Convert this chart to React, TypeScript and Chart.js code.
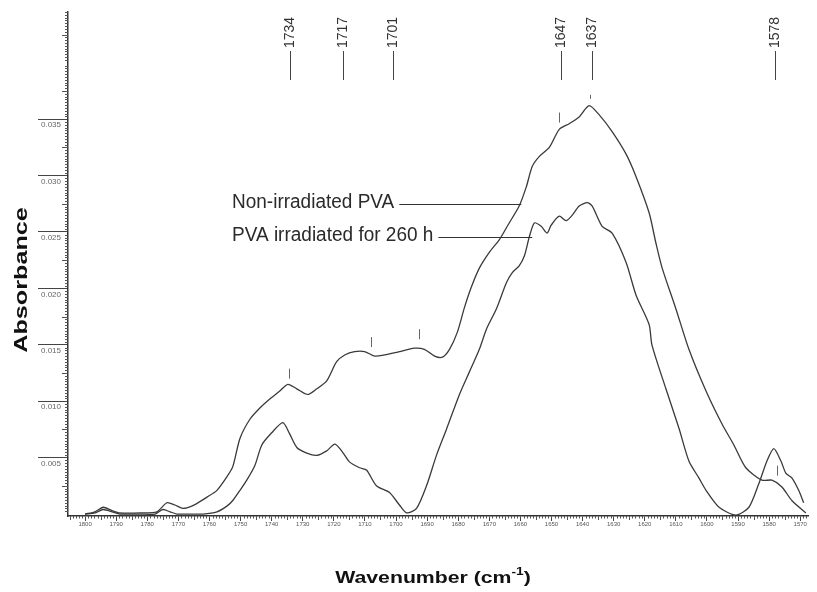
import React, { useEffect, useRef } from "react";
import { Chart, registerables } from "chart.js";

Chart.register(...registerables);

// ---- Data (wavenumber in cm-1, absorbance) ----
const wavenumberNonIrr = [1800.0,1796.8,1794.2,1791.3,1788.8,1782.3,1776.9,1773.7,1771.1,1768.5,1765.7,1763.1,1760.8,1757.6,1754.4,1752.5,1750.2,1747.0,1743.8,1740.6,1737.4,1734.8,1731.9,1728.4,1725.5,1722.3,1719.1,1716.5,1713.3,1710.1,1706.9,1703.7,1698.9,1694.1,1690.9,1687.6,1685.1,1682.8,1680.3,1678.0,1675.8,1673.2,1670.0,1666.8,1663.6,1660.4,1658.1,1656.2,1653.9,1650.7,1647.5,1644.3,1641.1,1637.9,1634.7,1630.5,1626.0,1622.8,1618.6,1616.4,1614.4,1610.0,1605.8,1600.3,1595.2,1591.3,1587.5,1582.3,1579.1,1575.9,1572.7,1568.2];
const absorbanceNonIrr = [0.0000,0.0002,0.0006,0.0003,0.0001,0.0001,0.0002,0.0010,0.0008,0.0005,0.0007,0.0011,0.0015,0.0021,0.0033,0.0042,0.0067,0.0084,0.0094,0.0102,0.0109,0.0115,0.0111,0.0106,0.0111,0.0118,0.0135,0.0141,0.0144,0.0144,0.0140,0.0141,0.0144,0.0147,0.0146,0.0140,0.0139,0.0146,0.0161,0.0183,0.0201,0.0218,0.0232,0.0243,0.0258,0.0273,0.0290,0.0308,0.0317,0.0325,0.0341,0.0346,0.0352,0.0362,0.0354,0.0339,0.0319,0.0299,0.0267,0.0240,0.0218,0.0182,0.0146,0.0109,0.0080,0.0061,0.0041,0.0030,0.0030,0.0024,0.0012,0.0001];

const wavenumberIrr = [1800.0,1796.8,1794.2,1791.3,1788.8,1782.3,1777.5,1775.0,1772.7,1770.5,1766.3,1762.1,1757.6,1754.4,1752.5,1750.2,1748.0,1745.4,1743.2,1740.0,1736.4,1734.2,1731.9,1728.7,1725.5,1722.3,1719.7,1717.5,1714.9,1711.7,1709.5,1706.3,1702.1,1698.9,1696.6,1693.4,1690.2,1687.0,1683.8,1679.6,1676.4,1673.2,1670.9,1667.7,1664.5,1662.6,1660.4,1658.7,1657.1,1655.5,1653.3,1651.4,1650.1,1647.5,1645.3,1643.3,1641.1,1638.5,1636.9,1633.7,1630.5,1626.0,1622.8,1618.6,1617.7,1613.2,1609.0,1605.8,1602.6,1600.3,1596.1,1590.7,1586.5,1583.3,1580.7,1578.5,1576.2,1574.6,1572.7,1570.5,1568.9];
const absorbanceIrr = [0.0000,0.0001,0.0004,0.0002,0.0000,0.0000,0.0000,0.0004,0.0002,0.0000,0.0000,0.0000,0.0002,0.0007,0.0012,0.0021,0.0030,0.0043,0.0061,0.0072,0.0081,0.0071,0.0059,0.0054,0.0052,0.0056,0.0062,0.0056,0.0046,0.0041,0.0039,0.0025,0.0019,0.0008,0.0001,0.0005,0.0025,0.0052,0.0075,0.0106,0.0126,0.0146,0.0164,0.0182,0.0205,0.0214,0.0220,0.0229,0.0246,0.0258,0.0255,0.0249,0.0256,0.0264,0.0260,0.0265,0.0273,0.0276,0.0273,0.0255,0.0249,0.0223,0.0194,0.0168,0.0150,0.0111,0.0076,0.0047,0.0032,0.0021,0.0006,-0.0001,0.0006,0.0027,0.0047,0.0058,0.0047,0.0036,0.0032,0.0021,0.0010];

const xTickValues = [1800,1790,1780,1770,1760,1750,1740,1730,1720,1710,1700,1690,1680,1670,1660,1650,1640,1630,1620,1610,1600,1590,1580,1570];
const yTickValues = [0.005,0.010,0.015,0.020,0.025,0.030,0.035];

const peakLabels = [1734, 1717, 1701, 1647, 1637, 1578];
const peakMarkWavenumbers = [1734.5, 1708, 1692.5, 1647.5, 1637.6, 1577.5];
const peakMarkAbsorbances = [0.0120, 0.0148, 0.0155, 0.0347, 0.0368, 0.0034];

const seriesNames = ["Non-irradiated PVA", "PVA irradiated for 260 h"];
const leaderWavenumbers = [1659.7, 1656.2];
const leaderAbsorbances = [0.0275, 0.0246];

// ---- styling constants ----
const INK = "#3a3a3a";
const FONT = "Arial, 'Liberation Sans', Helvetica, sans-serif";

const overlayPlugin = {
  id: "overlay",
  afterDraw(chart: any) {
    const ctx = chart.ctx as CanvasRenderingContext2D;
    const xs = chart.scales.x;
    const ys = chart.scales.y;
    const area = chart.chartArea;
    ctx.save();

    // minor ticks y
    ctx.strokeStyle = "#555";
    ctx.lineWidth = 1;
    ctx.beginPath();
    for (let i = 1; i * 0.00025 <= ys.max; i++) {
      if (i % 20 === 0) continue;
      const len = i % 10 === 0 ? 6 : 3;
      const py = Math.round(ys.getPixelForValue(i * 0.00025)) + 0.5;
      ctx.moveTo(area.left, py);
      ctx.lineTo(area.left - len, py);
    }
    // minor ticks x
    for (let w = Math.ceil(xs.min); w <= xs.max; w++) {
      if (w % 10 === 0) continue;
      const len = w % 5 === 0 ? 4 : 2.5;
      const px = Math.round(xs.getPixelForValue(w)) + 0.5;
      ctx.moveTo(px, area.bottom);
      ctx.lineTo(px, area.bottom + len);
    }
    ctx.stroke();

    // peak labels at top
    ctx.strokeStyle = "#444";
    ctx.fillStyle = "#333";
    peakLabels.forEach((v) => {
      const px = Math.round(xs.getPixelForValue(v)) + 0.5;
      ctx.beginPath();
      ctx.moveTo(px, 80);
      ctx.lineTo(px, 51);
      ctx.stroke();
      ctx.save();
      ctx.translate(px, 48);
      ctx.rotate(-Math.PI / 2);
      ctx.font = `14px ${FONT}`;
      ctx.textAlign = "left";
      ctx.textBaseline = "middle";
      ctx.fillText(String(v), 0, 0);
      ctx.restore();
    });

    // small peak markers
    ctx.strokeStyle = "#666";
    peakMarkWavenumbers.forEach((w, i) => {
      const px = Math.round(xs.getPixelForValue(w)) + 0.5;
      const py = ys.getPixelForValue(peakMarkAbsorbances[i]);
      const len = i === 4 ? 4 : 10;
      ctx.beginPath();
      ctx.moveTo(px, py);
      ctx.lineTo(px, py - len);
      ctx.stroke();
    });

    // series labels with leader lines
    ctx.font = `19px ${FONT}`;
    ctx.fillStyle = "#2a2a2a";
    ctx.strokeStyle = "#333";
    ctx.textBaseline = "middle";
    ctx.textAlign = "left";
    seriesNames.forEach((name, i) => {
      const ax = xs.getPixelForValue(leaderWavenumbers[i]);
      const ay = Math.round(ys.getPixelForValue(leaderAbsorbances[i])) + 0.5;
      const tx = 232;
      ctx.save();
      ctx.translate(tx, ay - 2);
      ctx.scale(1.0, 1.05);
      ctx.fillText(name, 0, 0);
      ctx.restore();
      const tw = ctx.measureText(name).width;
      ctx.beginPath();
      ctx.moveTo(tx + tw + 5, ay);
      ctx.lineTo(ax, ay);
      ctx.stroke();
    });

    // y axis title
    ctx.save();
    ctx.fillStyle = "#111";
    ctx.translate(22, 280);
    ctx.rotate(-Math.PI / 2);
    ctx.scale(1.4, 1);
    ctx.font = `bold 18px ${FONT}`;
    ctx.textAlign = "center";
    ctx.textBaseline = "middle";
    ctx.fillText("Absorbance", 0, 0);
    ctx.restore();

    // x axis title
    ctx.save();
    ctx.fillStyle = "#111";
    ctx.translate(433, 578);
    ctx.scale(1.25, 1);
    ctx.textBaseline = "middle";
    ctx.textAlign = "left";
    const main = "Wavenumber (cm";
    const sup = "-1";
    const close = ")";
    ctx.font = `bold 17px ${FONT}`;
    const w1 = ctx.measureText(main).width;
    const w3 = ctx.measureText(close).width;
    ctx.font = `bold 11px ${FONT}`;
    const w2 = ctx.measureText(sup).width;
    const total = w1 + w2 + w3;
    const x0 = -total / 2;
    ctx.font = `bold 17px ${FONT}`;
    ctx.fillText(main, x0, 0);
    ctx.font = `bold 11px ${FONT}`;
    ctx.fillText(sup, x0 + w1, -6);
    ctx.font = `bold 17px ${FONT}`;
    ctx.fillText(close, x0 + w1 + w2, 0);
    ctx.restore();

    ctx.restore();
  },
};

export default function App() {
  const canvasRef = useRef<HTMLCanvasElement | null>(null);

  useEffect(() => {
    const canvas = canvasRef.current;
    if (!canvas) return;
    const chart = new Chart(canvas, {
      type: "line",
      data: {
        datasets: [
          {
            label: seriesNames[0],
            data: wavenumberNonIrr.map((w, i) => ({ x: w, y: absorbanceNonIrr[i] })),
            borderColor: INK,
            borderWidth: 1.3,
            pointRadius: 0,
            tension: 0.25,
            fill: false,
          },
          {
            label: seriesNames[1],
            data: wavenumberIrr.map((w, i) => ({ x: w, y: absorbanceIrr[i] })),
            borderColor: INK,
            borderWidth: 1.3,
            pointRadius: 0,
            tension: 0.25,
            fill: false,
          },
        ],
      },
      options: {
        responsive: false,
        animation: false,
        devicePixelRatio: 1,
        layout: { padding: { left: 8, right: 9, top: 12, bottom: 0 } },
        plugins: { legend: { display: false }, tooltip: { enabled: false } },
        scales: {
          x: {
            type: "linear",
            reverse: true,
            min: 1567.5,
            max: 1805.5,
            afterBuildTicks: (s: any) => {
              s.ticks = xTickValues.map((v) => ({ value: v }));
            },
            afterFit: (s: any) => {
              s.height = 76;
            },
            border: { display: true, color: "#333", width: 1.5 },
            grid: { drawOnChartArea: false, drawTicks: true, tickLength: 5, color: "#444" },
            ticks: {
              autoSkip: false,
              maxRotation: 0,
              padding: 0,
              color: "#555",
              font: { size: 6, family: FONT },
              callback: (v: any) => String(v),
            },
          },
          y: {
            type: "linear",
            min: -0.000175,
            max: 0.0445,
            afterBuildTicks: (s: any) => {
              s.ticks = yTickValues.map((v) => ({ value: v }));
            },
            afterFit: (s: any) => {
              s.width = 60;
            },
            border: { display: true, color: "#333", width: 1.5 },
            grid: { drawOnChartArea: false, drawTicks: true, tickLength: 30, color: "#444" },
            ticks: {
              autoSkip: false,
              padding: -23,
              labelOffset: 6,
              crossAlign: "near",
              color: "#666",
              font: { size: 8, family: FONT },
              callback: (v: any) => Number(v).toFixed(3),
            },
          },
        },
      },
      plugins: [overlayPlugin],
    });
    return () => chart.destroy();
  }, []);

  return (
    <div style={{ position: "fixed", left: 0, top: 0, width: 817, height: 592, background: "#fff" }}>
      <canvas ref={canvasRef} width={817} height={592} style={{ width: 817, height: 592, display: "block" }} />
    </div>
  );
}
